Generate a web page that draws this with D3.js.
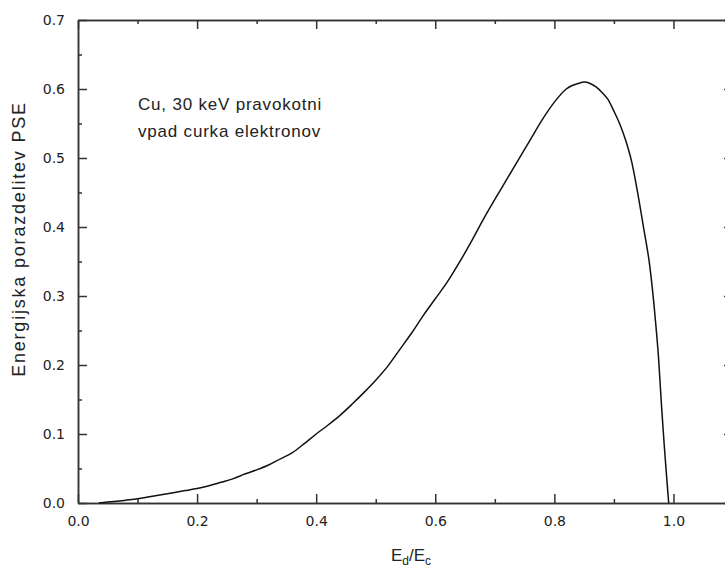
<!DOCTYPE html>
<html>
<head>
<meta charset="utf-8">
<script src="https://cdn.jsdelivr.net/npm/d3@7"></script>
<style>
  body { margin: 0; background: #fff; }
  .tick text { font-family: "DejaVu Sans", sans-serif; font-size: 14px; fill: #222; }
  .axis path, .axis line { stroke: #333; stroke-width: 1.5; }
  .label { font-family: "Liberation Sans", Arial, sans-serif; fill: #222; }
</style>
</head>
<body>
<div id="chart"></div>
<script>
// Cu, 30 keV - energy distribution of backscattered electrons
var ratio = [0.035, 0.06, 0.08, 0.10, 0.12, 0.14, 0.16, 0.18, 0.20, 0.22, 0.24, 0.26, 0.28, 0.30,
    0.32, 0.34, 0.36, 0.38, 0.40, 0.42, 0.44, 0.46, 0.48, 0.50, 0.52, 0.54, 0.56, 0.58, 0.60,
    0.62, 0.64, 0.66, 0.68, 0.70, 0.72, 0.74, 0.76, 0.78, 0.80, 0.82, 0.84, 0.85, 0.86, 0.87,
    0.88, 0.89, 0.90, 0.91, 0.92, 0.93, 0.94, 0.95, 0.96, 0.97, 0.975, 0.98, 0.985, 0.99, 0.992];
var pse = [0.000, 0.002, 0.004, 0.006, 0.009, 0.012, 0.015, 0.018, 0.021, 0.025, 0.030, 0.035, 0.042, 0.048,
    0.055, 0.064, 0.073, 0.086, 0.100, 0.113, 0.127, 0.143, 0.160, 0.178, 0.198, 0.222, 0.246, 0.272, 0.296,
    0.320, 0.348, 0.378, 0.410, 0.440, 0.469, 0.498, 0.527, 0.556, 0.581, 0.600, 0.608, 0.610, 0.608, 0.603,
    0.595, 0.585, 0.568, 0.549, 0.525, 0.494, 0.449, 0.398, 0.345, 0.262, 0.210, 0.140, 0.078, 0.022, 0.000];

var xTicks = [0.0, 0.2, 0.4, 0.6, 0.8, 1.0];
var xMinor = [0.1, 0.3, 0.5, 0.7, 0.9, 1.1];
var yTicks = [0.0, 0.1, 0.2, 0.3, 0.4, 0.5, 0.6, 0.7];
var yMinor = [0.05, 0.15, 0.25, 0.35, 0.45, 0.55, 0.65];

var annotation = ["Cu, 30 keV pravokotni", "vpad curka elektronov"];

var width = 725, height = 569;
var mLeft = 78, mTop = 20, mRight = 733, mBottom = 503;

var svg = d3.select("#chart").append("svg")
    .attr("width", width)
    .attr("height", height);

var x = d3.scaleLinear().domain([0, 1.1]).range([mLeft, mRight]);
var y = d3.scaleLinear().domain([0, 0.7]).range([mBottom, mTop]);

// major ticks, pointing inward
svg.append("g").attr("class", "axis")
    .attr("transform", "translate(0," + mBottom + ")")
    .call(d3.axisBottom(x).tickValues(xTicks).tickSize(-9).tickSizeOuter(0).tickPadding(13).tickFormat(d3.format(".1f")));
svg.append("g").attr("class", "axis")
    .attr("transform", "translate(0," + mTop + ")")
    .call(d3.axisTop(x).tickValues(xTicks).tickSize(-9).tickSizeOuter(0).tickFormat(""));
svg.append("g").attr("class", "axis")
    .attr("transform", "translate(" + mLeft + ",0)")
    .call(d3.axisLeft(y).tickValues(yTicks).tickSize(-9).tickSizeOuter(0).tickPadding(13).tickFormat(d3.format(".1f")));
svg.append("g").attr("class", "axis")
    .attr("transform", "translate(" + mRight + ",0)")
    .call(d3.axisRight(y).tickValues(yTicks).tickSize(-9).tickSizeOuter(0).tickFormat(""));

// minor ticks
svg.append("g").attr("class", "axis")
    .attr("transform", "translate(0," + mBottom + ")")
    .call(d3.axisBottom(x).tickValues(xMinor).tickSize(-4).tickSizeOuter(0).tickFormat(""));
svg.append("g").attr("class", "axis")
    .attr("transform", "translate(0," + mTop + ")")
    .call(d3.axisTop(x).tickValues(xMinor).tickSize(-4).tickSizeOuter(0).tickFormat(""));
svg.append("g").attr("class", "axis")
    .attr("transform", "translate(" + mLeft + ",0)")
    .call(d3.axisLeft(y).tickValues(yMinor).tickSize(-4).tickSizeOuter(0).tickFormat(""));
svg.append("g").attr("class", "axis")
    .attr("transform", "translate(" + mRight + ",0)")
    .call(d3.axisRight(y).tickValues(yMinor).tickSize(-4).tickSizeOuter(0).tickFormat(""));

var line = d3.line()
    .x(function (d, i) { return x(ratio[i]); })
    .y(function (d, i) { return y(pse[i]); })
    .curve(d3.curveMonotoneX);

svg.append("path")
    .datum(pse)
    .attr("d", line)
    .attr("fill", "none")
    .attr("stroke", "#111")
    .attr("stroke-width", 1.5);

// text in plot
svg.append("g").selectAll("text")
    .data(annotation)
    .enter().append("text")
    .attr("class", "label")
    .attr("x", 138)
    .attr("y", function (d, i) { return 110 + i * 27; })
    .style("font-size", "17px")
    .style("letter-spacing", "0.8px")
    .text(function (d) { return d; });

// axis titles
var xt = svg.append("text")
    .attr("class", "label")
    .attr("x", 411)
    .attr("y", 561)
    .attr("text-anchor", "middle")
    .style("font-size", "17px");
xt.append("tspan").text("E");
xt.append("tspan").attr("dy", 4).style("font-size", "12px").text("d");
xt.append("tspan").attr("dy", -4).text("/E");
xt.append("tspan").attr("dy", 4).style("font-size", "12px").text("c");

svg.append("text")
    .attr("class", "label")
    .attr("transform", "translate(25,239) rotate(-90)")
    .attr("text-anchor", "middle")
    .style("font-size", "18px")
    .style("letter-spacing", "1.8px")
    .text("Energijska porazdelitev PSE");
</script>
</body>
</html>
